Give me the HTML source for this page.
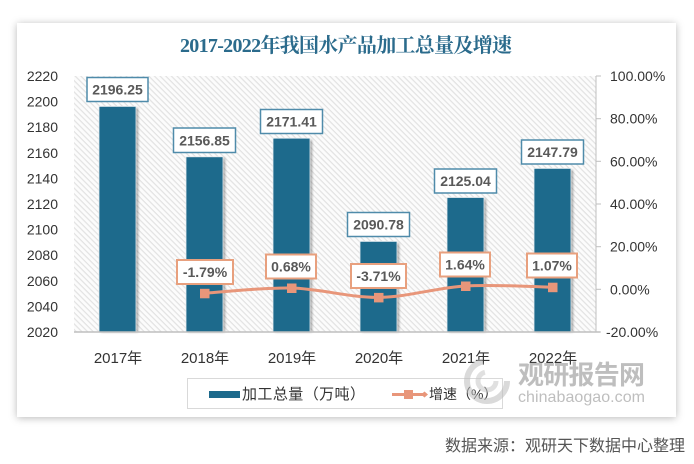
<!DOCTYPE html>
<html><head><meta charset="utf-8"><style>
html,body{margin:0;padding:0;background:#fff;}
svg{display:block;}
</style></head><body>
<svg width="694" height="464" viewBox="0 0 694 464" xmlns="http://www.w3.org/2000/svg">
<defs>
<filter id="sh" x="-10%" y="-10%" width="120%" height="120%"><feDropShadow dx="0" dy="1" stdDeviation="4" flood-color="#000" flood-opacity="0.28"/></filter>
<filter id="bs" x="-30%" y="-10%" width="160%" height="120%"><feGaussianBlur stdDeviation="1.2"/></filter>
<pattern id="hatch" width="4" height="4" patternUnits="userSpaceOnUse" patternTransform="rotate(45)">
<rect width="4" height="4" fill="#fcfcfc"/><rect x="0" y="0" width="4" height="1.2" fill="#e2e2e2"/>
</pattern>
</defs>
<rect x="0" y="0" width="694" height="464" fill="#fff"/>
<rect x="17" y="23" width="659" height="394" fill="#fff" filter="url(#sh)"/>
<!-- title -->
<text x="346" y="52" text-anchor="middle" textLength="332" font-family="'Liberation Serif','Noto Serif CJK SC',serif" font-weight="bold" font-size="20" fill="#2B6B8C">2017-2022年我国水产品加工总量及增速</text>
<!-- plot area -->
<rect x="74" y="76" width="522" height="256" fill="url(#hatch)"/>
<!-- bars shadows -->
<g fill="#000" opacity="0.35" filter="url(#bs)">
<rect x="101" y="108" width="37" height="224"/>
<rect x="188" y="158" width="37" height="174"/>
<rect x="275" y="140" width="37" height="192"/>
<rect x="362" y="243" width="37" height="89"/>
<rect x="449" y="199" width="37" height="133"/>
<rect x="536" y="170" width="37" height="162"/>
</g>
<g fill="#1D6A8C" stroke="#e8eef2" stroke-width="0.8">
<rect x="99" y="106.4" width="37" height="225.6"/>
<rect x="186" y="156.8" width="37" height="175.2"/>
<rect x="273" y="138.2" width="37" height="193.8"/>
<rect x="360" y="241.4" width="37" height="90.6"/>
<rect x="447" y="197.5" width="37" height="134.5"/>
<rect x="534" y="168.4" width="37" height="163.6"/>
</g>
<!-- axes -->
<line x1="74" y1="332" x2="600" y2="332" stroke="#bfbfbf" stroke-width="1.5"/>
<line x1="596" y1="76" x2="596" y2="332" stroke="#bfbfbf" stroke-width="1"/>
<g stroke="#bfbfbf" stroke-width="1">
<line x1="596" y1="76" x2="601" y2="76"/>
<line x1="596" y1="118.7" x2="601" y2="118.7"/>
<line x1="596" y1="161.3" x2="601" y2="161.3"/>
<line x1="596" y1="204" x2="601" y2="204"/>
<line x1="596" y1="246.7" x2="601" y2="246.7"/>
<line x1="596" y1="289.3" x2="601" y2="289.3"/>
<line x1="596" y1="332" x2="601" y2="332"/>
</g>
<!-- left labels -->
<g font-family="'Liberation Sans','Noto Sans CJK SC',sans-serif" font-size="14" fill="#333" text-anchor="end">
<text x="58" y="81">2220</text>
<text x="58" y="106.6">2200</text>
<text x="58" y="132.2">2180</text>
<text x="58" y="157.8">2160</text>
<text x="58" y="183.4">2140</text>
<text x="58" y="209">2120</text>
<text x="58" y="234.6">2100</text>
<text x="58" y="260.2">2080</text>
<text x="58" y="285.8">2060</text>
<text x="58" y="311.4">2040</text>
<text x="58" y="337">2020</text>
</g>
<g font-family="'Liberation Sans','Noto Sans CJK SC',sans-serif" font-size="14" fill="#333">
<text x="610" y="81">100.00%</text>
<text x="610" y="123.7">80.00%</text>
<text x="610" y="166.3">60.00%</text>
<text x="610" y="209">40.00%</text>
<text x="610" y="251.7">20.00%</text>
<text x="610" y="294.3">0.00%</text>
<text x="606" y="337">-20.00%</text>
</g>
<!-- x labels -->
<g font-family="'Liberation Sans','Noto Sans CJK SC',sans-serif" font-size="15" fill="#333" text-anchor="middle">
<text x="118" y="363">2017年</text>
<text x="205" y="363">2018年</text>
<text x="292" y="363">2019年</text>
<text x="379" y="363">2020年</text>
<text x="466" y="363">2021年</text>
<text x="553" y="363">2022年</text>
</g>
<!-- bar labels -->
<g fill="#fff" stroke="#4F8BAA" stroke-width="1.5">
<rect x="87" y="77.5" width="61" height="24"/>
<rect x="173.5" y="128" width="62" height="24.5"/>
<rect x="260.5" y="109.5" width="62" height="24"/>
<rect x="347.5" y="212.5" width="62" height="24"/>
<rect x="434.5" y="169" width="62" height="24"/>
<rect x="521.5" y="140" width="62" height="24"/>
</g>
<g font-family="'Liberation Sans',sans-serif" font-size="14" font-weight="bold" fill="#595959" text-anchor="middle">
<text x="117.5" y="94.5">2196.25</text>
<text x="204.5" y="145.3">2156.85</text>
<text x="291.5" y="126.5">2171.41</text>
<text x="378.5" y="229.5">2090.78</text>
<text x="465.5" y="186">2125.04</text>
<text x="552.5" y="157">2147.79</text>
</g>
<!-- line -->
<path d="M204.5,293.3 C219,292.4 262.5,287.3 291.5,288 C320.5,288.7 349.5,297.7 378.5,297.4 C407.5,297.1 436.5,287.7 465.5,286 C494.5,284.3 538,287 552.5,287.2" fill="none" stroke="#E8967A" stroke-width="3"/>
<g fill="#E8967A">
<rect x="200" y="288.8" width="9.5" height="9.5"/>
<rect x="287" y="283.5" width="9.5" height="9.5"/>
<rect x="374" y="292.9" width="9.5" height="9.5"/>
<rect x="461" y="281.5" width="9.5" height="9.5"/>
<rect x="548" y="282.7" width="9.5" height="9.5"/>
</g>
<g fill="#fff" stroke="#E8A07E" stroke-width="2">
<rect x="177" y="260" width="56" height="24"/>
<rect x="266" y="254.5" width="50" height="24"/>
<rect x="351" y="264" width="55" height="24"/>
<rect x="440" y="252.5" width="50" height="24"/>
<rect x="527" y="253.5" width="50" height="24"/>
</g>
<g font-family="'Liberation Sans',sans-serif" font-size="14" font-weight="bold" fill="#595959" text-anchor="middle">
<text x="205" y="277">-1.79%</text>
<text x="291" y="271.5">0.68%</text>
<text x="378.5" y="281">-3.71%</text>
<text x="465" y="269.5">1.64%</text>
<text x="552" y="270.5">1.07%</text>
</g>
<!-- legend -->
<rect x="187.5" y="378.5" width="315" height="30" fill="#fff" stroke="#d9d9d9" stroke-width="1"/>
<rect x="209" y="391" width="31" height="7" fill="#1D6A8C"/>
<text x="242" y="399" font-family="'Liberation Sans','Noto Sans CJK SC',sans-serif" font-size="15" fill="#333" textLength="123">加工总量（万吨）</text>
<line x1="392" y1="394.5" x2="424" y2="394.5" stroke="#E8967A" stroke-width="3"/>
<rect x="404" y="390" width="9" height="9" fill="#E8967A"/>
<path d="M421,394.5 L424.5,391.5 L428,394.5 L424.5,397.5 Z" fill="#E8967A"/>
<text x="429" y="399" font-family="'Liberation Sans','Noto Sans CJK SC',sans-serif" font-size="14" fill="#333">增速（%）</text>
<!-- watermark -->
<g opacity="0.55">
<circle cx="487" cy="381" r="20" fill="none" stroke="#bdbdbd" stroke-width="6" stroke-dasharray="90 36"/>
<circle cx="487" cy="381" r="9" fill="none" stroke="#c8c8c8" stroke-width="5" stroke-dasharray="40 17"/>
<text x="518" y="384" font-family="'Liberation Sans','Noto Sans CJK SC',sans-serif" font-size="26" font-weight="bold" fill="#8a8a8a" textLength="127">观研报告网</text>
<text x="518" y="402" font-family="'Liberation Sans',sans-serif" font-size="16" fill="#8a8a8a" textLength="127">chinabaogao.com</text>
</g>
<!-- source -->
<text x="445" y="451" font-family="'Liberation Sans','Noto Sans CJK SC',sans-serif" font-size="16" fill="#555" textLength="240">数据来源：观研天下数据中心整理</text>
</svg>
</body></html>
